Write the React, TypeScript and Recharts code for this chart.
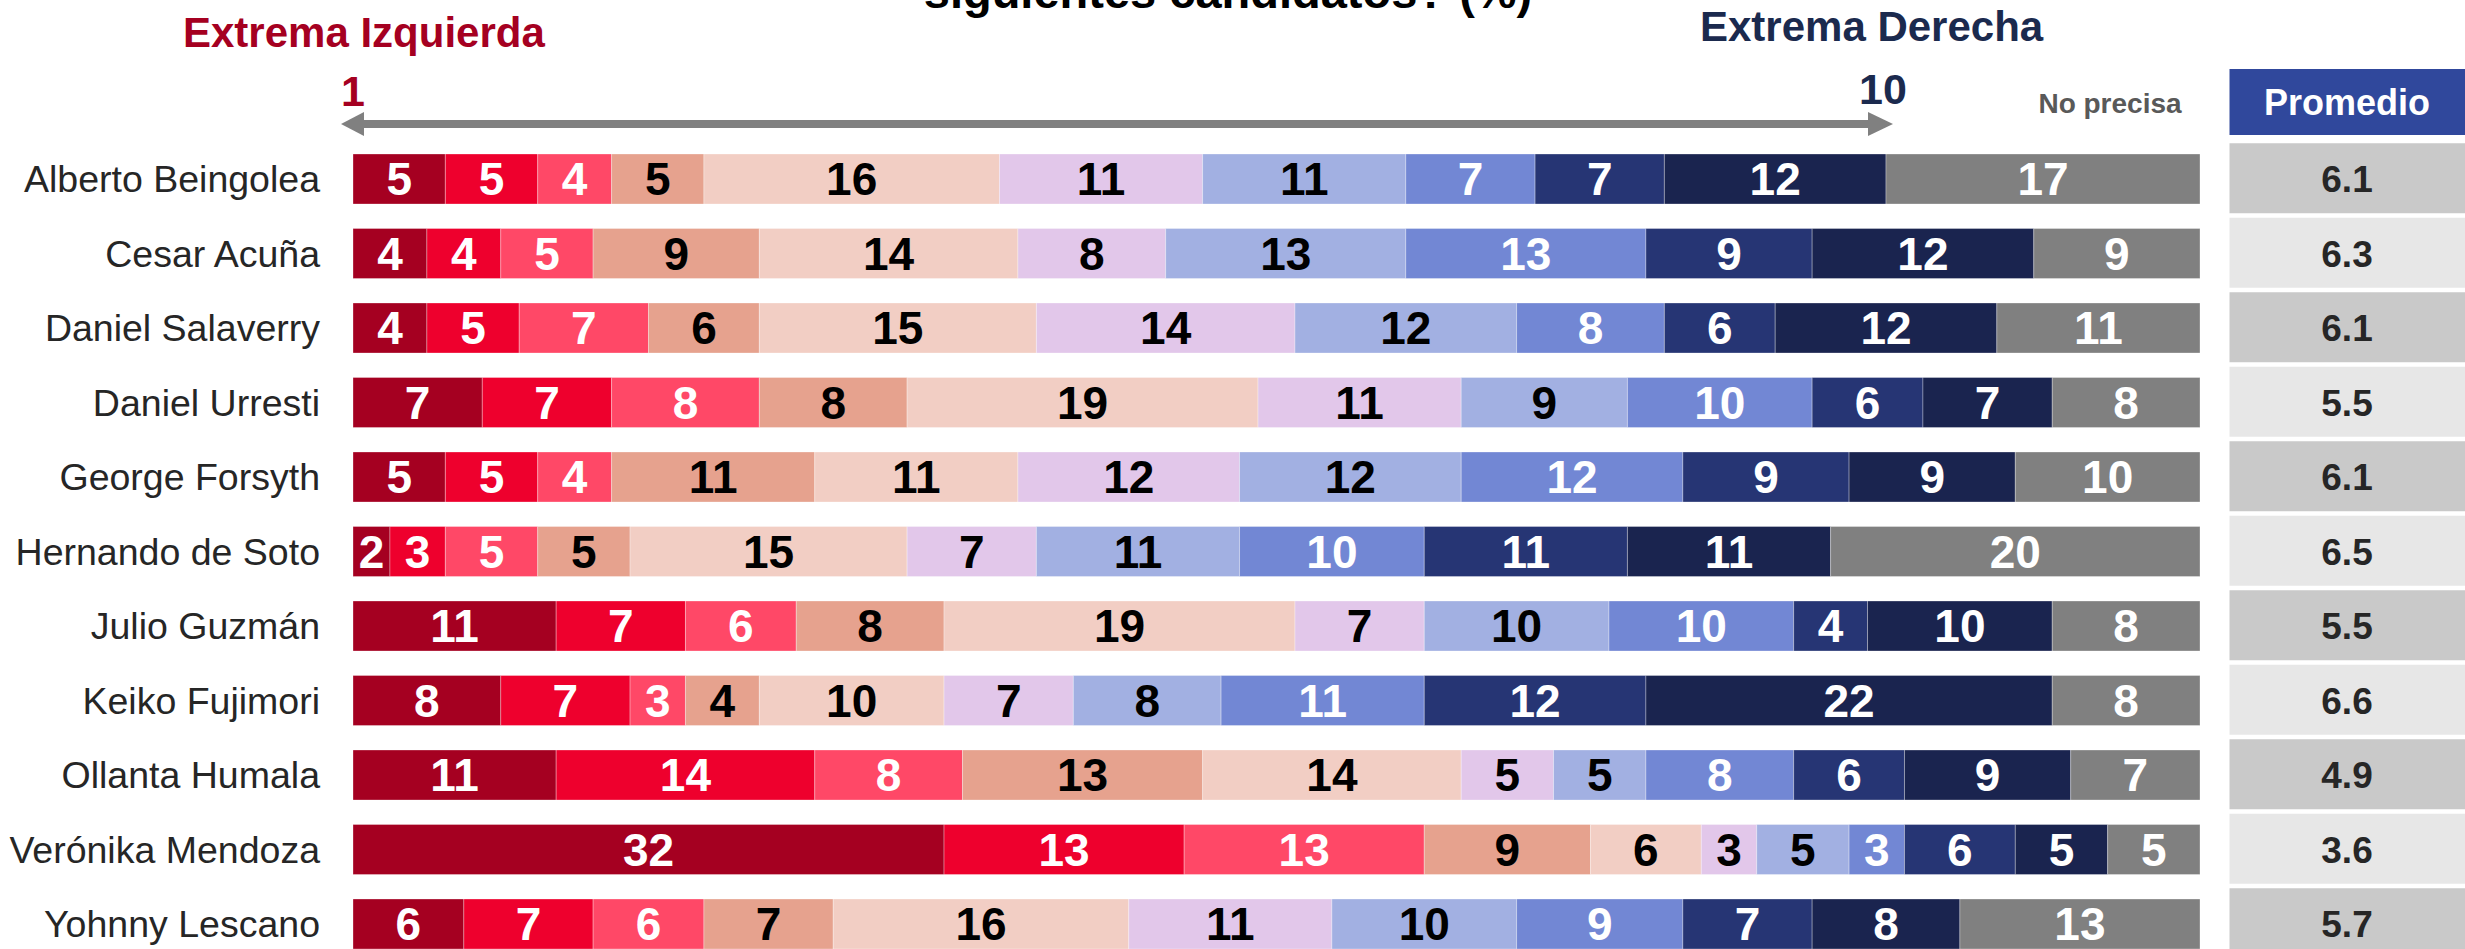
import React from 'react';
import { BarChart, Bar, XAxis, YAxis, LabelList } from 'recharts';

const FONT = '"Liberation Sans", Arial, sans-serif';

const candidates = [
  'Alberto Beingolea',
  'Cesar Acuña',
  'Daniel Salaverry',
  'Daniel Urresti',
  'George Forsyth',
  'Hernando de Soto',
  'Julio Guzmán',
  'Keiko Fujimori',
  'Ollanta Humala',
  'Verónika Mendoza',
  'Yohnny Lescano',
];

// one array per point of the 1-10 scale, plus "No precisa"
const s1 = [5, 4, 4, 7, 5, 2, 11, 8, 11, 32, 6];
const s2 = [5, 4, 5, 7, 5, 3, 7, 7, 14, 13, 7];
const s3 = [4, 5, 7, 8, 4, 5, 6, 3, 8, 13, 6];
const s4 = [5, 9, 6, 8, 11, 5, 8, 4, 13, 9, 7];
const s5 = [16, 14, 15, 19, 11, 15, 19, 10, 14, 6, 16];
const s6 = [11, 8, 14, 11, 12, 7, 7, 7, 5, 3, 11];
const s7 = [11, 13, 12, 9, 12, 11, 10, 8, 5, 5, 10];
const s8 = [7, 13, 8, 10, 12, 10, 10, 11, 8, 3, 9];
const s9 = [7, 9, 6, 6, 9, 11, 4, 12, 6, 6, 7];
const s10 = [12, 12, 12, 7, 9, 11, 10, 22, 9, 5, 8];
const noPrecisa = [17, 9, 11, 8, 10, 20, 8, 8, 7, 5, 13];

const promedio = [6.1, 6.3, 6.1, 5.5, 6.1, 6.5, 5.5, 6.6, 4.9, 3.6, 5.7];

const seriesKeys = ['s1', 's2', 's3', 's4', 's5', 's6', 's7', 's8', 's9', 's10', 'np'];
const seriesValues = [s1, s2, s3, s4, s5, s6, s7, s8, s9, s10, noPrecisa];
const COLORS = ['#A50021', '#EE002D', '#FF4867', '#E6A28E', '#F2CEC4', '#E2C7EA', '#A2B0E2', '#7287D4', '#263574', '#1A244F', '#808080'];
const LABEL_COLORS = ['#fff', '#fff', '#fff', '#000', '#000', '#000', '#000', '#fff', '#fff', '#fff', '#fff'];

const data = candidates.map((name, i) => {
  const row: { [key: string]: string | number } = { name };
  seriesKeys.forEach((k, j) => {
    row[k] = seriesValues[j][i];
  });
  return row;
});

const makeLabel = (fill: string) => (props: any) => {
  const x = Number(props.x), y = Number(props.y);
  const w = Number(props.width), h = Number(props.height);
  if (!props.value) return null;
  return (
    <text x={x + w / 2} y={y + h / 2 + 16} textAnchor="middle" fill={fill}
      fontSize={46} fontWeight="bold" fontFamily={FONT}>
      {props.value}
    </text>
  );
};

// name on the left, promedio cell on the right
const CandidateTick = (props: any) => {
  const { y, payload } = props;
  const i = candidates.indexOf(payload.value);
  return (
    <g>
      <text x={320} y={y + 13} textAnchor="end" fontSize={37.5} fill="#262626" fontFamily={FONT}>
        {payload.value}
      </text>
      <rect x={2229.5} y={y - 36} width={240} height={70} fill={i % 2 === 0 ? '#C9C9C9' : '#E7E7E7'} />
      <text x={2347} y={y + 13} textAnchor="middle" fontSize={37} fontWeight="bold" fill="#262626" fontFamily={FONT}>
        {promedio[i].toFixed(1)}
      </text>
    </g>
  );
};

export default function App() {
  return (
    <div style={{ position: 'absolute', left: 0, top: 0, width: 2465, height: 949, overflow: 'hidden', background: '#fff' }}>
      <BarChart
        width={2465}
        height={975}
        data={data}
        layout="vertical"
        margin={{ top: 142, right: 265, bottom: 13.5, left: 0 }}
        barSize={50}
      >
        <XAxis type="number" domain={[0, 100]} hide />
        <YAxis type="category" dataKey="name" width={353} interval={0}
          axisLine={false} tickLine={false} tick={<CandidateTick />} />
        {seriesKeys.map((k, j) => (
          <Bar key={k} dataKey={k} stackId="a" fill={COLORS[j]} stroke="#ffffff"
            strokeWidth={1} strokeOpacity={0.3} isAnimationActive={false}>
            <LabelList dataKey={k} content={makeLabel(LABEL_COLORS[j])} />
          </Bar>
        ))}
      </BarChart>

      {/* header annotations */}
      <svg width={2465} height={949} style={{ position: 'absolute', left: 0, top: 0, pointerEvents: 'none' }}>
        <text x={1228} y={8} textAnchor="middle" fontSize={47} fontWeight="bold" fill="#000" fontFamily={FONT}>
          siguientes candidatos? (%)
        </text>
        <text x={183} y={47} fontSize={42} fontWeight="bold" fill="#A50021" fontFamily={FONT}>Extrema Izquierda</text>
        <text x={1700} y={41} fontSize={42} fontWeight="bold" fill="#1B2A4E" fontFamily={FONT}>Extrema Derecha</text>
        <text x={353} y={106} textAnchor="middle" fontSize={43} fontWeight="bold" fill="#A50021" fontFamily={FONT}>1</text>
        <text x={1883} y={104} textAnchor="middle" fontSize={43} fontWeight="bold" fill="#1B2A4E" fontFamily={FONT}>10</text>
        <rect x={362} y={120} width={1508} height={8} fill="#808080" />
        <polygon points="341,124 364,112 364,136" fill="#808080" />
        <polygon points="1893,124 1868,112 1868,136" fill="#808080" />
        <text x={2110} y={113} textAnchor="middle" fontSize={28} fontWeight="bold" fill="#595959" fontFamily={FONT}>No precisa</text>
        <rect x={2229.5} y={69} width={240} height={66} fill="#30489C" />
        <text x={2347} y={115} textAnchor="middle" fontSize={36} fontWeight="bold" fill="#fff" fontFamily={FONT}>Promedio</text>
      </svg>
    </div>
  );
}
